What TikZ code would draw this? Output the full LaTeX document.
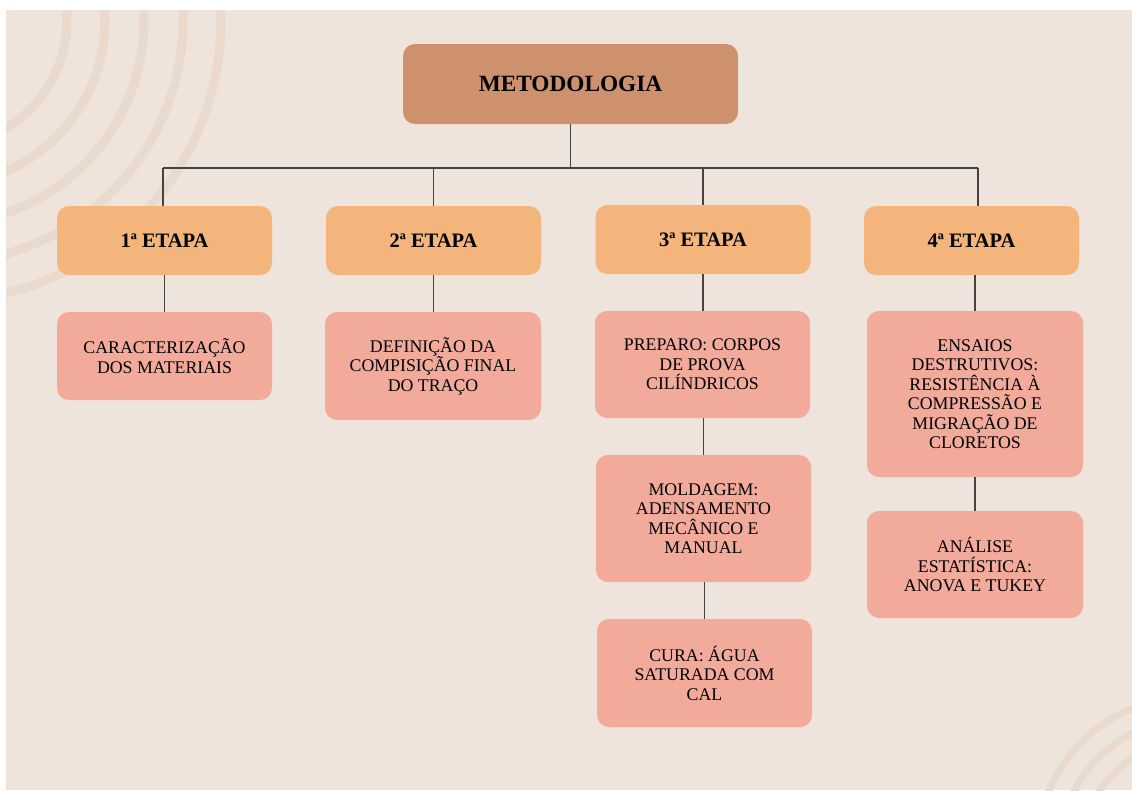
\documentclass[tikz,border=0pt]{standalone}
\usepackage{fontspec}
\setmainfont{Liberation Serif}
\definecolor{bgc}{RGB}{238,228,219}
\definecolor{arcc}{RGB}{234,218,205}
\definecolor{titlec}{RGB}{205,145,110}
\definecolor{stagec}{RGB}{244,181,125}
\definecolor{subc}{RGB}{242,171,155}
\definecolor{linec}{RGB}{70,66,62}
\begin{document}
\begin{tikzpicture}[x=1pt,y=-1pt,
  box/.style={rectangle, rounded corners=12pt, draw=none, align=center, inner sep=2pt},
  titlebox/.style={box, fill=titlec, minimum width=335pt, minimum height=80pt, font=\bfseries\fontsize{23.3}{26}\selectfont},
  stagebox/.style={box, fill=stagec, minimum width=215pt, minimum height=69pt, font=\bfseries\fontsize{20.5}{23}\selectfont},
  subbox/.style={box, fill=subc, minimum width=215pt, font=\fontsize{17.8}{19.5}\selectfont},
  conn/.style={draw=linec, line width=1.5pt}]
\useasboundingbox (0,0) rectangle (1132,790);
\fill[white] (0,0) rectangle (1132,790);
\fill[bgc] (6,10) rectangle (1132,790);
\begin{scope}
  \clip (6,10) rectangle (1132,790);
  \foreach \r in {127,165,204,243,281} \draw[arcc, line width=9pt] (-60,20) circle[radius=\r pt];
  \foreach \r in {108,130,153} \draw[arcc, line width=7pt] (1190,850) circle[radius=\r pt];
\end{scope}

\node[titlebox] (m) at (570.5,84) {METODOLOGIA};

\node[stagebox] (s1) at (164.5,240.5) {1ª ETAPA};
\node[stagebox] (s2) at (433.5,240.5) {2ª ETAPA};
\node[stagebox] (s3) at (703,239.5) {3ª ETAPA};
\node[stagebox] (s4) at (971.5,240.5) {4ª ETAPA};

\node[subbox, minimum height=88pt] (c1) at (164.5,356) {CARACTERIZAÇÃO\\DOS MATERIAIS};
\node[subbox, minimum height=108pt, minimum width=216pt] (c2) at (433,366) {DEFINIÇÃO DA\\COMPISIÇÃO FINAL\\DO TRAÇO};
\node[subbox, minimum height=107pt] (c3a) at (702.5,364.5) {PREPARO: CORPOS\\DE PROVA\\CILÍNDRICOS};
\node[subbox, minimum height=127pt] (c3b) at (703.5,518.5) {MOLDAGEM:\\ADENSAMENTO\\MECÂNICO E\\MANUAL};
\node[subbox, minimum height=108pt] (c3c) at (704.5,673) {CURA: ÁGUA\\SATURADA COM\\CAL};
\node[subbox, minimum height=166pt, minimum width=216pt] (c4a) at (975,394) {ENSAIOS\\DESTRUTIVOS:\\RESISTÊNCIA À\\COMPRESSÃO E\\MIGRAÇÃO DE\\CLORETOS};
\node[subbox, minimum height=107pt, minimum width=216pt] (c4b) at (975,564.5) {ANÁLISE\\ESTATÍSTICA:\\ANOVA E TUKEY};

\coordinate (bl) at (163,168);
\coordinate (br) at (978,168);
\draw[conn] (bl) -- (br);
\draw[conn] (m.south) -- (m.south |- bl);
\draw[conn] (bl) -- (bl |- s1.north);
\draw[conn] (s2.north) -- (s2.north |- bl);
\draw[conn] (s3.north) -- (s3.north |- bl);
\draw[conn] (br) -- (br |- s4.north);

\draw[conn] (s1.south) -- (s1.south |- c1.north);
\draw[conn] (s2.south) -- (s2.south |- c2.north);
\draw[conn] (s3.south) -- (s3.south |- c3a.north);
\draw[conn] (c3b.north) -- (c3b.north |- c3a.south);
\draw[conn] (c3c.north) -- (c3c.north |- c3b.south);
\draw[conn] (c4a.north) -- (c4a.north |- s4.south);
\draw[conn] (c4b.north) -- (c4b.north |- c4a.south);
\end{tikzpicture}
\end{document}
